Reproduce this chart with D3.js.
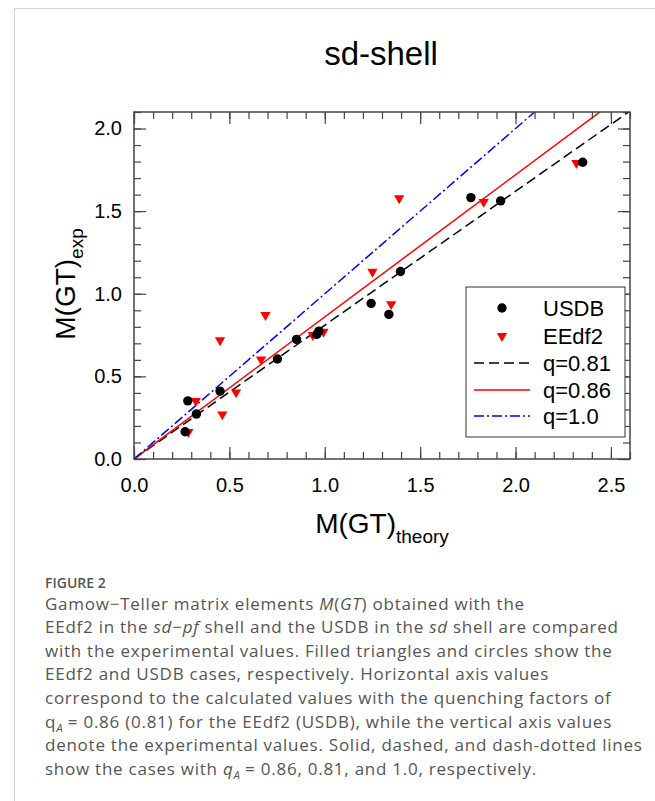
<!DOCTYPE html>
<html>
<head>
<meta charset="utf-8">
<script src="https://cdn.jsdelivr.net/npm/d3@7"></script>
<style>
  body { margin: 0; background: #fff; }
  svg { display: block; }
</style>
</head>
<body>
<div id="chart"></div>
<script>
// values
var usdbTheory = [0.268, 0.282, 0.327, 0.451, 0.752, 0.852, 0.958, 0.969, 1.243, 1.336, 1.397, 1.766, 1.922, 2.352];
var usdbExp    = [0.165, 0.352, 0.272, 0.411, 0.605, 0.724, 0.754, 0.774, 0.941, 0.875, 1.135, 1.582, 1.562, 1.796];

var eedfTheory = [0.285, 0.324, 0.451, 0.463, 0.535, 0.666, 0.689, 0.937, 0.993, 1.250, 1.348, 1.390, 1.833, 2.319];
var eedfExp    = [0.163, 0.351, 0.719, 0.270, 0.403, 0.603, 0.871, 0.750, 0.770, 1.133, 0.937, 1.578, 1.556, 1.791];

var quenchNames  = ["q=0.81", "q=0.86", "q=1.0"];
var quenchValues = [0.81, 0.86, 1.0];
var quenchColors = ["#000000", "#ff0000", "#0000ff"];
var quenchDashes = ["10,5", null, "10,3,2,3"];

var xMajorTicks = [0.0, 0.5, 1.0, 1.5, 2.0, 2.5];
var yMajorTicks = [0.0, 0.5, 1.0, 1.5, 2.0];

var svgWidth = 655;
var svgHeight = 801;

var plotLeft = 134, plotRight = 630, plotTop = 112, plotBottom = 459;

var svg = d3.select("#chart")
  .append("svg")
  .attr("width", svgWidth)
  .attr("height", svgHeight);

// page border lines
svg.append("line")
  .attr("x1", 14).attr("x2", svgWidth).attr("y1", 8.5).attr("y2", 8.5)
  .attr("stroke", "#d4d4d4");
svg.append("line")
  .attr("x1", 14.5).attr("x2", 14.5).attr("y1", 8).attr("y2", svgHeight)
  .attr("stroke", "#d4d4d4");

var xScale = d3.scaleLinear().domain([0, 2.6]).range([plotLeft, plotRight]);
var yScale = d3.scaleLinear().domain([0, 2.1]).range([plotBottom, plotTop]);

var chartFont = "'Liberation Sans', Arial, sans-serif";

// title
svg.append("text")
  .attr("x", 381)
  .attr("y", 65)
  .attr("text-anchor", "middle")
  .style("font-family", chartFont)
  .style("font-size", "33px")
  .text("sd-shell");

// clip region for reference lines
svg.append("clipPath")
  .attr("id", "plotClip")
  .append("rect")
  .attr("x", plotLeft).attr("y", plotTop)
  .attr("width", plotRight - plotLeft).attr("height", plotBottom - plotTop);

var xMinor = d3.range(0, 2.601, 0.1);
var yMinor = d3.range(0, 2.101, 0.1);

function styleAxis(g) {
  g.select(".domain").remove();
  g.selectAll("line").attr("stroke", "#444").attr("stroke-width", 1.2);
  g.selectAll("text")
    .style("font-family", chartFont)
    .style("font-size", "20px")
    .attr("fill", "#000");
}

// bottom axis
svg.append("g")
  .attr("transform", `translate(0,${plotBottom})`)
  .call(d3.axisBottom(xScale).tickValues(xMinor).tickSize(-7).tickFormat(""))
  .call(styleAxis);
svg.append("g")
  .attr("transform", `translate(0,${plotBottom})`)
  .call(d3.axisBottom(xScale).tickValues(xMajorTicks).tickSize(-12).tickPadding(19).tickFormat(d3.format(".1f")))
  .call(styleAxis);

// top axis
svg.append("g")
  .attr("transform", `translate(0,${plotTop})`)
  .call(d3.axisTop(xScale).tickValues(xMinor).tickSize(-7).tickFormat(""))
  .call(styleAxis);
svg.append("g")
  .attr("transform", `translate(0,${plotTop})`)
  .call(d3.axisTop(xScale).tickValues(xMajorTicks).tickSize(-12).tickFormat(""))
  .call(styleAxis);

// left axis
svg.append("g")
  .attr("transform", `translate(${plotLeft},0)`)
  .call(d3.axisLeft(yScale).tickValues(yMinor).tickSize(-7).tickFormat(""))
  .call(styleAxis);
svg.append("g")
  .attr("transform", `translate(${plotLeft},0)`)
  .call(d3.axisLeft(yScale).tickValues(yMajorTicks).tickSize(-12).tickPadding(12).tickFormat(d3.format(".1f")))
  .call(styleAxis);

// right axis
svg.append("g")
  .attr("transform", `translate(${plotRight},0)`)
  .call(d3.axisRight(yScale).tickValues(yMinor).tickSize(-7).tickFormat(""))
  .call(styleAxis);
svg.append("g")
  .attr("transform", `translate(${plotRight},0)`)
  .call(d3.axisRight(yScale).tickValues(yMajorTicks).tickSize(-12).tickFormat(""))
  .call(styleAxis);

// reference lines y = q * x
var lineGen = d3.line().x(d => xScale(d[0])).y(d => yScale(d[1]));
var linesGroup = svg.append("g").attr("clip-path", "url(#plotClip)");
quenchValues.forEach(function(q, i) {
  linesGroup.append("path")
    .datum([[0, 0], [2.6, q * 2.6]])
    .attr("d", lineGen)
    .attr("fill", "none")
    .attr("stroke", quenchColors[i])
    .attr("stroke-width", 1.5)
    .attr("stroke-dasharray", quenchDashes[i]);
});

// data points
var triangle = d3.symbol().type(d3.symbolTriangle).size(46);

var eedfData = eedfTheory.map((v, i) => [v, eedfExp[i]]);
var usdbData = usdbTheory.map((v, i) => [v, usdbExp[i]]);

svg.append("g").selectAll("path")
  .data(eedfData)
  .enter()
  .append("path")
  .attr("d", triangle)
  .attr("transform", d => `translate(${xScale(d[0])},${yScale(d[1])}) rotate(180)`)
  .attr("fill", "#ff0000");

svg.append("g").selectAll("circle")
  .data(usdbData)
  .enter()
  .append("circle")
  .attr("cx", d => xScale(d[0]))
  .attr("cy", d => yScale(d[1]))
  .attr("r", 4.7)
  .attr("fill", "#000");

// frame
svg.append("rect")
  .attr("x", plotLeft).attr("y", plotTop)
  .attr("width", plotRight - plotLeft).attr("height", plotBottom - plotTop)
  .attr("fill", "none")
  .attr("stroke", "#444")
  .attr("stroke-width", 1.5);

// axis titles
var xTitle = svg.append("text")
  .attr("x", 382)
  .attr("y", 533)
  .attr("text-anchor", "middle")
  .style("font-family", chartFont)
  .style("font-size", "28px");
xTitle.append("tspan").text("M(GT)");
xTitle.append("tspan").attr("dy", 10).style("font-size", "19px").text("theory");

var yTitle = svg.append("text")
  .attr("transform", "translate(75,284) rotate(-90)")
  .attr("text-anchor", "middle")
  .style("font-family", chartFont)
  .style("font-size", "28px");
yTitle.append("tspan").text("M(GT)");
yTitle.append("tspan").attr("dy", 8).style("font-size", "19px").text("exp");

// legend
var legend = svg.append("g");
legend.append("rect")
  .attr("x", 466).attr("y", 287)
  .attr("width", 159).attr("height", 150)
  .attr("fill", "#fff")
  .attr("stroke", "#333")
  .attr("stroke-width", 1);

var rowY = [308, 336, 363, 390, 416];
var legendNames = ["USDB", "EEdf2"].concat(quenchNames);

legend.append("circle")
  .attr("cx", 502).attr("cy", rowY[0]).attr("r", 4.7).attr("fill", "#000");
legend.append("path")
  .attr("d", triangle)
  .attr("transform", `translate(502,${rowY[1]}) rotate(180)`)
  .attr("fill", "#ff0000");
quenchValues.forEach(function(q, i) {
  legend.append("line")
    .attr("x1", 474).attr("x2", 530)
    .attr("y1", rowY[i + 2]).attr("y2", rowY[i + 2])
    .attr("stroke", quenchColors[i])
    .attr("stroke-width", 1.5)
    .attr("stroke-dasharray", quenchDashes[i]);
});
legendNames.forEach(function(name, i) {
  legend.append("text")
    .attr("x", 543)
    .attr("y", rowY[i])
    .attr("dy", "0.36em")
    .style("font-family", chartFont)
    .style("font-size", "22px")
    .text(name);
});

// caption
var capFont = "'Open Sans', 'Noto Sans', sans-serif";
svg.append("text")
  .attr("x", 45).attr("y", 588)
  .style("font-family", capFont)
  .style("font-size", "14px")
  .style("font-weight", "600")
  .attr("fill", "#555")
  .text("FIGURE 2");

// each caption line: list of [text, italic, subscript]
var captionLines = [
  [["Gamow−Teller matrix elements "], ["M", 1], ["("], ["GT", 1], [") obtained with the"]],
  [["EEdf2 in the "], ["sd", 1], ["−"], ["pf", 1], [" shell and the USDB in the "], ["sd", 1], [" shell are compared"]],
  [["with the experimental values. Filled triangles and circles show the"]],
  [["EEdf2 and USDB cases, respectively. Horizontal axis values"]],
  [["correspond to the calculated values with the quenching factors of"]],
  [["q"], ["A", 1, 1], [" = 0.86 (0.81) for the EEdf2 (USDB), while the vertical axis values"]],
  [["denote the experimental values. Solid, dashed, and dash-dotted lines"]],
  [["show the cases with "], ["q", 1], ["A", 1, 1], [" = 0.86, 0.81, and 1.0, respectively."]]
];

var caption = svg.append("text")
  .style("font-family", capFont)
  .style("font-size", "17px")
  .style("letter-spacing", "0.75px")
  .attr("fill", "#555");

captionLines.forEach(function(parts, i) {
  var baseY = 609.5 + i * 23.6;
  parts.forEach(function(p, j) {
    var t = caption.append("tspan").text(p[0]);
    if (j === 0) t.attr("x", 45);
    t.attr("y", p[2] ? baseY + 4 : baseY);
    if (p[1]) t.style("font-style", "italic");
    if (p[2]) t.style("font-size", "11.5px").style("letter-spacing", "0px");
  });
});
</script>
</body>
</html>
